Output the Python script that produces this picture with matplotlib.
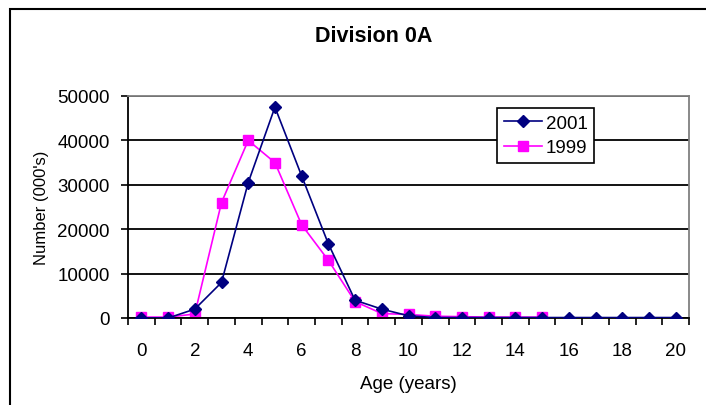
import matplotlib
matplotlib.use("Agg")
import matplotlib.pyplot as plt
from matplotlib.patches import Rectangle
import numpy as np

plt.rcParams['font.family'] = ['Liberation Sans', 'DejaVu Sans']

ages = list(range(21))
age_labels = [str(a) for a in range(0, 21, 2)]

ages_2001 = list(range(21))
num_2001 = [0, 0, 2000, 8000, 30500, 47500, 32000, 16700, 4000, 2000, 500,
            100, 100, 100, 100, 100, 100, 100, 100, 100, 100]

ages_1999 = list(range(16))
num_1999 = [200, 200, 900, 26000, 40000, 35000, 21000, 13000, 3700, 1000, 800,
            400, 300, 200, 200, 200]

y_ticks = [0, 10000, 20000, 30000, 40000, 50000]

W, H = 706, 406
FS = 13.5
fig = plt.figure(figsize=(W / 100, H / 100), dpi=100)

# outer chart-area frame
fig.patches.append(Rectangle((9.5 / W, -0.1), 2.0, 1 - 10 / H + 0.1,
                             transform=fig.transFigure, fill=False,
                             edgecolor='black', linewidth=1.5))

L, R, T, B = 128, 689, 97, 319
ax = fig.add_axes([L / W, 1 - B / H, (R - L) / W, (B - T) / H])

ax.plot(ages_2001, num_2001, color='#000080', marker='D', markersize=6.5,
        linewidth=1.2, label='2001', zorder=3)
ax.plot(ages_1999, num_1999, color='#FF00FF', marker='s', markersize=6.7,
        linewidth=1.2, label='1999', zorder=2)

ax.set_xlim(-0.5, 20.5)
ax.set_ylim(0, 50000)

ax.set_xticks(range(0, 21, 2))
ax.set_xticklabels(age_labels, fontsize=FS)
ax.set_xticks(np.arange(-0.5, 21, 1), minor=True)
ax.tick_params(axis='x', which='major', length=0, pad=17)
ax.tick_params(axis='x', which='minor', length=5, width=1.2, direction='out', color='black')

ax.set_yticks(y_ticks)
ax.set_yticklabels([str(v) for v in y_ticks], fontsize=FS)
ax.tick_params(axis='y', length=5, width=1.2, direction='out', pad=8)

ax.grid(axis='y', color='black', linewidth=1.3, zorder=0)
ax.set_axisbelow(True)

for side in ['top', 'right']:
    ax.spines[side].set_color('#808080')
    ax.spines[side].set_linewidth(1.3)
for side in ['left', 'bottom']:
    ax.spines[side].set_color('black')
    ax.spines[side].set_linewidth(1.3)

ax.set_xlabel('Age (years)', fontsize=FS, labelpad=12)
ax.set_ylabel("Number (000's)", fontsize=FS - 1.5, labelpad=6)

fig.text(374 / W, 1 - 37 / H, 'Division 0A', ha='center', va='center',
         fontsize=15.5, fontweight='bold')

leg = ax.legend(loc='upper left',
                bbox_to_anchor=((497 - L) / (R - L), 1 - (109 - T) / (B - T)),
                borderaxespad=0, frameon=True, fancybox=False, fontsize=FS,
                handlelength=2.05, borderpad=0.35, labelspacing=0.4,
                handletextpad=0.2)
leg.get_frame().set_edgecolor('black')
leg.get_frame().set_linewidth(1.2)
leg.get_frame().set_alpha(1)

fig.savefig('out.png', dpi=100)
